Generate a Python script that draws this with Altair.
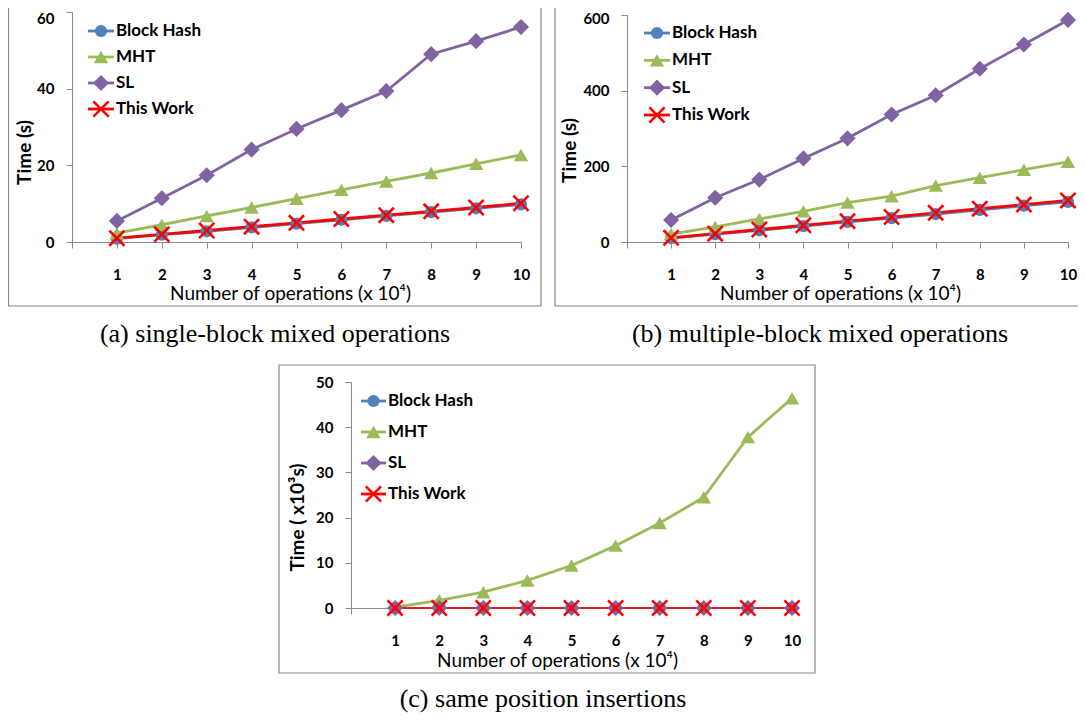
import altair as alt
import pandas as pd

# ---------------- data ----------------
ops = [1, 2, 3, 4, 5, 6, 7, 8, 9, 10]
series = ["Block Hash", "MHT", "SL", "This Work"]
colors = ["#4F81BD", "#9BBB59", "#8064A2", "#FF0000"]
x_ticks = [0, 1, 2, 3, 4, 5, 6, 7, 8, 9, 10]

# (a) single-block mixed operations, Time (s)
a_block = [0.9, 1.9, 2.8, 3.8, 4.8, 5.8, 6.8, 7.8, 8.8, 9.8]
a_mht = [2.3, 4.5, 6.8, 9.0, 11.3, 13.6, 15.8, 18.0, 20.4, 22.7]
a_sl = [5.5, 11.4, 17.4, 24.1, 29.5, 34.4, 39.4, 49.0, 52.4, 56.1]
a_this = [1.0, 2.0, 3.0, 4.0, 5.0, 6.0, 7.0, 8.0, 9.0, 10.1]
a_yticks = [0, 20, 40, 60]

# (b) multiple-block mixed operations, Time (s)
b_block = [10, 21, 31, 42, 53, 63, 74, 85, 96, 106]
b_mht = [21, 40, 61, 81, 104, 121, 149, 170, 191, 212]
b_sl = [58, 117, 165, 221, 274, 337, 388, 458, 522, 587]
b_this = [11, 22, 33, 44, 55, 66, 77, 88, 99, 110]
b_yticks = [0, 200, 400, 600]

# (c) same position insertions, Time (x10^3 s)
c_block = [0, 0, 0, 0, 0, 0, 0, 0, 0, 0]
c_mht = [0.2, 1.7, 3.5, 6.1, 9.4, 13.8, 18.8, 24.5, 37.8, 46.4]
c_sl = [0, 0, 0, 0, 0, 0, 0, 0, 0, 0]
c_this = [0, 0, 0, 0, 0, 0, 0, 0, 0, 0]
c_yticks = [0, 10, 20, 30, 40, 50]

captions = ["(a) single-block mixed operations",
            "(b) multiple-block mixed operations",
            "(c) same position insertions"]
x_title = "Number of operations (x 10\u2074)"
x_title_c = "Number of  operations (x 10\u2074)"
y_title = "Time (s)"
y_title_c = "Time ( x10\u00b3s)"

# ---------------- styles ----------------
GRAY = "#8a8a8a"
FONT = "Lato"
XPATH = "M-1,-1L1,1M-1,1L1,-1"
W, H = 1070, 707

color_scale = alt.Scale(domain=series, range=colors)
shape_scale = alt.Scale(domain=series[:3], range=["circle", "triangle-up", "diamond"])
size_scale = alt.Scale(domain=series[:3], range=[150, 260, 240])
X_SIZE = 230


def long_df(block, mht, sl, this):
    rows = []
    for s, vals in zip(series, [block, mht, sl, this]):
        for o, v in zip(ops, vals):
            rows.append({"ops": o, "series": s, "value": v})
    return pd.DataFrame(rows)


def panel(df, xr, yr, ydom, yticks, ytitle, xtitle, xtitle_pos, ytitle_pos,
          leg_range, leg_x, thin_lw, top_shift):
    top_val = yticks[-1]
    xaxis = alt.Axis(values=x_ticks, labelExpr="datum.value == 0 ? '' : datum.label",
                     orient="bottom", offset=yr[0] - H, grid=False,
                     tickSize=6, tickColor=GRAY, domainColor=GRAY, labelPadding=19,
                     labelFlush=False, labelOverlap=False, labelFont=FONT,
                     labelFontWeight="bold", labelFontSize=15, labelColor="black",
                     title=xtitle, titleFont=FONT, titleFontWeight="normal",
                     titleFontSize=19, titleColor="black",
                     titleX=xtitle_pos[0], titleY=xtitle_pos[1] - yr[0],
                     titleAlign="center", titleBaseline="middle")
    yaxis = alt.Axis(values=yticks, orient="left", offset=-xr[0], grid=False,
                     tickSize=6, tickColor=GRAY, domainColor=GRAY, labelPadding=12,
                     labelFont=FONT, labelFontWeight="bold", labelFontSize=15,
                     labelColor="black", labelOverlap=False, labelFlush=False,
                     labelOffset={"condition": {"test": f"datum.value === {top_val}",
                                                "value": top_shift}, "value": 0},
                     title=ytitle, titleFont=FONT, titleFontWeight="bold",
                     titleFontSize=19, titleColor="black",
                     titleX=ytitle_pos[0] - xr[0], titleY=ytitle_pos[1],
                     titleAngle=270, titleAlign="center", titleBaseline="middle")
    X = alt.X("ops:Q", scale=alt.Scale(domain=[0, 10], range=xr, nice=False, zero=False),
              axis=xaxis)
    Y = alt.Y("value:Q", scale=alt.Scale(domain=ydom, range=yr, nice=False, zero=False),
              axis=yaxis)
    C = alt.Color("series:N", scale=color_scale, legend=None)
    base = alt.Chart(df)
    layers = []
    for s in series:
        lw = 2.8 if s == "MHT" else thin_lw
        layers.append(base.transform_filter(alt.datum.series == s)
                      .mark_line(strokeWidth=lw).encode(x=X, y=Y, color=C))
    pts = (base.transform_filter(alt.datum.series != "This Work")
           .mark_point(filled=True, opacity=1)
           .encode(x=X, y=Y, color=C,
                   shape=alt.Shape("series:N", scale=shape_scale, legend=None),
                   size=alt.Size("series:N", scale=size_scale, legend=None)))
    xs = (base.transform_filter(alt.datum.series == "This Work")
          .mark_point(shape=XPATH, size=X_SIZE, strokeWidth=2.6, filled=False, opacity=1)
          .encode(x=X, y=Y, color=C))
    data_layer = alt.layer(*layers, pts, xs)

    # legend drawn inside the plot
    leg_df = pd.DataFrame({"series": series})
    LY = alt.Y("series:N", scale=alt.Scale(type="point", domain=series, range=leg_range,
                                           padding=0), axis=None)
    lb = alt.Chart(leg_df)
    mid = (leg_x[0] + leg_x[1]) / 2
    lrule = lb.mark_rule(strokeWidth=2.8).encode(
        x=alt.value(leg_x[0]), x2=alt.value(leg_x[1]), y=LY, color=C)
    lpts = (lb.transform_filter(alt.datum.series != "This Work")
            .mark_point(filled=True, opacity=1)
            .encode(x=alt.value(mid), y=LY, color=C,
                    shape=alt.Shape("series:N", scale=shape_scale, legend=None),
                    size=alt.Size("series:N", scale=size_scale, legend=None)))
    lxs = (lb.transform_filter(alt.datum.series == "This Work")
           .mark_point(shape=XPATH, size=X_SIZE, strokeWidth=2.6, filled=False, opacity=1)
           .encode(x=alt.value(mid), y=LY, color=C))
    ltxt = lb.mark_text(align="left", baseline="middle", font=FONT, fontWeight="bold",
                        fontSize=17, color="black").encode(
        x=alt.value(leg_x[1] + 2), y=LY, text="series:N")
    leg_layer = alt.layer(lrule, lpts, lxs, ltxt)
    return alt.layer(data_layer, leg_layer).resolve_scale(y="independent")


one = pd.DataFrame({"k": [0]})


def frame(x0, x1, y0, y1):
    return alt.Chart(one).mark_rect(fillOpacity=0, stroke=GRAY, strokeWidth=1.2).encode(
        x=alt.value(x0), x2=alt.value(x1), y=alt.value(y0), y2=alt.value(y1))


def caption(txt, cx, by):
    return alt.Chart(one).mark_text(text=txt, font="Liberation Serif", fontSize=26,
                                    align="center", baseline="alphabetic",
                                    color="black").encode(x=alt.value(cx), y=alt.value(by))


pa = panel(long_df(a_block, a_mht, a_sl, a_this), [64, 513], [234, 4], [0, 60], a_yticks,
           y_title, x_title, (282, 285), (16, 144), [23, 101], [80, 106], 2.8, 6)
pb = panel(long_df(b_block, b_mht, b_sl, b_this), [619, 1060], [234, 7], [0, 600], b_yticks,
           y_title, x_title, (832, 285), (561, 142), [25, 107], [636, 662], 2.8, 3)
pc = panel(long_df(c_block, c_mht, c_sl, c_this), [343, 784], [600, 374], [0, 50], c_yticks,
           y_title_c, x_title_c, (549, 652), (289, 509), [393, 486], [353, 378], 1.5, 0)

chart = alt.layer(
    frame(0.5, 533, -5, 298), frame(547, 1080, -5, 298), frame(271, 807, 357, 665),
    pa, pb, pc,
    caption(captions[0], 267, 334), caption(captions[1], 812, 334),
    caption(captions[2], 535, 699),
).resolve_scale(x="independent", y="independent").properties(
    width=W, height=H, autosize=alt.AutoSizeParams(type="none"), padding=0
).configure_view(strokeWidth=0)

chart.save("out.html", embed_options={"renderer": "svg", "actions": False})
